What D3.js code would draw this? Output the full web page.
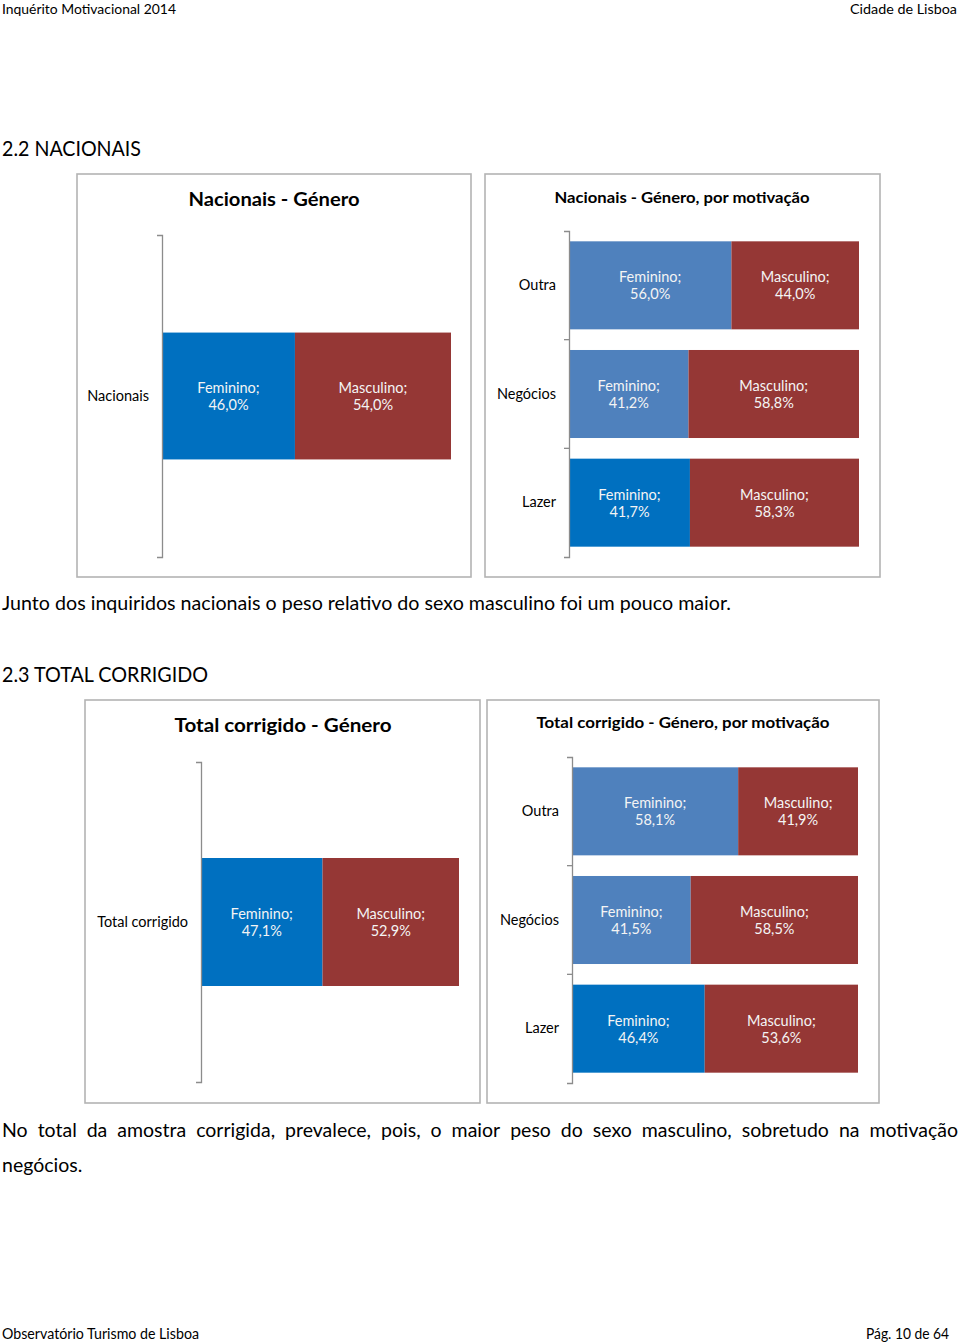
<!DOCTYPE html>
<html><head><meta charset="utf-8">
<script src="https://cdn.jsdelivr.net/npm/d3@7"></script>
<style>
html,body{margin:0;padding:0;background:#fff;}
svg{display:block;font-family:Lato,"Noto Sans",sans-serif;}
</style></head>
<body>
<svg id="page" width="960" height="1343"></svg>
<script>
// ---------- DATA ----------
const seriesKeys = ["Feminino", "Masculino"];
const nacCategories = ["Nacionais"];
const nacFem = [46.0];
const nacMasc = [54.0];
const motCategories = ["Outra", "Negócios", "Lazer"];
const nacMotFem = [56.0, 41.2, 41.7];
const nacMotMasc = [44.0, 58.8, 58.3];
const totCategories = ["Total corrigido"];
const totFem = [47.1];
const totMasc = [52.9];
const totMotFem = [58.1, 41.5, 46.4];
const totMotMasc = [41.9, 58.5, 53.6];

const svg = d3.select("#page");
const locale = d3.formatLocale({decimal: ",", thousands: ".", grouping: [3], currency: ["", "€"]});
const fmt = v => locale.format(".1f")(v) + "%";

const femStrong = "#0070C0", femLight = "#4F81BD", mascColor = "#953735";
const femColorFor = c => (c === "Outra" || c === "Negócios") ? femLight : femStrong;

function textFit(sel, x, y, str, size, width, opts = {}) {
  const t = sel.append("text").attr("x", x).attr("y", y).text(str)
    .attr("font-size", size).attr("fill", opts.fill || "#000")
    .attr("font-weight", opts.weight || "normal")
    .attr("text-anchor", opts.anchor || "start");
  if (width) t.attr("textLength", width).attr("lengthAdjust", "spacingAndGlyphs");
  return t;
}

// header / footer
textFit(svg, 2, 14, "Inquérito Motivacional 2014", 14, 174);
textFit(svg, 957, 14, "Cidade de Lisboa", 14, 107, {anchor: "end"});
textFit(svg, 2, 1339, "Observatório Turismo de Lisboa", 14.5, 197);
textFit(svg, 949, 1339, "Pág. 10 de 64", 14.5, 83, {anchor: "end"});

textFit(svg, 2, 156, "2.2 NACIONAIS", 21, 139);
textFit(svg, 2, 610, "Junto dos inquiridos nacionais o peso relativo do sexo masculino foi um pouco maior.", 19, 729);
textFit(svg, 2, 682, "2.3 TOTAL CORRIGIDO", 21, 206);

// justified line
function justified(words, x0, x1, y, size) {
  const g = svg.append("g");
  const nodes = words.map(w => g.append("text").attr("y", y).attr("font-size", size).text(w));
  const widths = nodes.map(n => n.node().getComputedTextLength());
  const total = d3.sum(widths);
  const gap = (x1 - x0 - total) / (words.length - 1);
  let x = x0;
  nodes.forEach((n, i) => { n.attr("x", x); x += widths[i] + gap; });
}
justified("No total da amostra corrigida, prevalece, pois, o maior peso do sexo masculino, sobretudo na motivação".split(" "), 2, 958, 1137, 19.5);
svg.append("text").attr("x", 2).attr("y", 1172).attr("font-size", 19.5).text("negócios.");

function drawChart(o) {
  const g = svg.append("g");
  g.append("rect").attr("x", o.box[0]).attr("y", o.box[1])
    .attr("width", o.box[2] - o.box[0]).attr("height", o.box[3] - o.box[1])
    .attr("fill", "#fff").attr("stroke", "#b3b3b3").attr("stroke-width", 1.6);
  const tt = g.append("text").attr("x", o.titleX).attr("y", o.titleY)
    .attr("text-anchor", "middle").attr("font-weight", "bold")
    .attr("font-size", o.titleSize).text(o.title);
  if (o.titleWidth) tt.attr("textLength", o.titleWidth).attr("lengthAdjust", "spacingAndGlyphs");

  const rows = o.categories.map((c, i) => ({cat: c, Feminino: o.fem[i], Masculino: o.masc[i]}));
  const stacked = d3.stack().keys(seriesKeys)(rows);

  const x = d3.scaleLinear().domain([0, 100]).range([o.axisX, o.barRight]);
  const y = d3.scaleBand().domain(o.categories).range([o.yTop, o.yBottom])
    .paddingInner(o.pad).paddingOuter(o.pad / 2);

  stacked.forEach(layer => {
    const key = layer.key;
    layer.forEach(d => {
      const fill = key === "Feminino" ? femColorFor(d.data.cat) : mascColor;
      const x0 = x(d[0]), x1 = x(d[1]);
      const yy = y(d.data.cat), h = y.bandwidth();
      g.append("rect").attr("x", x0).attr("y", yy).attr("width", x1 - x0).attr("height", h).attr("fill", fill);
      const cx = (x0 + x1) / 2, cy = yy + h / 2;
      const t = g.append("text").attr("text-anchor", "middle").attr("fill", "#f4f4f4").attr("font-size", 14.5);
      t.append("tspan").attr("x", cx).attr("y", cy - 3).text(key + ";");
      t.append("tspan").attr("x", cx).attr("y", cy + 14).text(fmt(d.data[key]));
    });
  });

  const axis = d3.axisLeft(y).tickSize(0).tickSizeOuter(5).tickPadding(13);
  const ax = g.append("g").attr("transform", `translate(${o.axisX},0)`).call(axis);
  ax.select(".domain").attr("stroke", "#8c8c8c").attr("stroke-width", 1.3);
  ax.selectAll("text").attr("font-size", 14.5).attr("fill", "#000").attr("font-family", "Lato,'Noto Sans',sans-serif");
  // boundary ticks between categories
  const step = y.step();
  for (let i = 1; i < o.categories.length; i++) {
    const yb = o.yTop + step * i;
    g.append("line").attr("x1", o.axisX - 5).attr("x2", o.axisX).attr("y1", yb).attr("y2", yb)
      .attr("stroke", "#8c8c8c").attr("stroke-width", 1.3);
  }
}

drawChart({box: [77, 174, 471, 577], title: "Nacionais - Género", titleX: 274, titleY: 206, titleSize: 19, titleWidth: 171,
  axisX: 162, barRight: 451, yTop: 235, yBottom: 557, pad: 0.606,
  categories: nacCategories, fem: nacFem, masc: nacMasc});
drawChart({box: [485, 174, 880, 577], title: "Nacionais - Género, por motivação", titleX: 682, titleY: 203, titleSize: 15.5, titleWidth: 255,
  axisX: 569, barRight: 859, yTop: 231, yBottom: 557, pad: 0.19,
  categories: motCategories, fem: nacMotFem, masc: nacMotMasc});
drawChart({box: [85, 700, 480, 1103], title: "Total corrigido - Género", titleX: 283, titleY: 732, titleSize: 19, titleWidth: 217,
  axisX: 201, barRight: 459, yTop: 762, yBottom: 1082, pad: 0.6,
  categories: totCategories, fem: totFem, masc: totMasc});
drawChart({box: [487, 700, 879, 1103], title: "Total corrigido - Género, por motivação", titleX: 683, titleY: 728, titleSize: 15.5, titleWidth: 293,
  axisX: 572, barRight: 858, yTop: 757, yBottom: 1083, pad: 0.19,
  categories: motCategories, fem: totMotFem, masc: totMotMasc});
</script>
</body></html>
